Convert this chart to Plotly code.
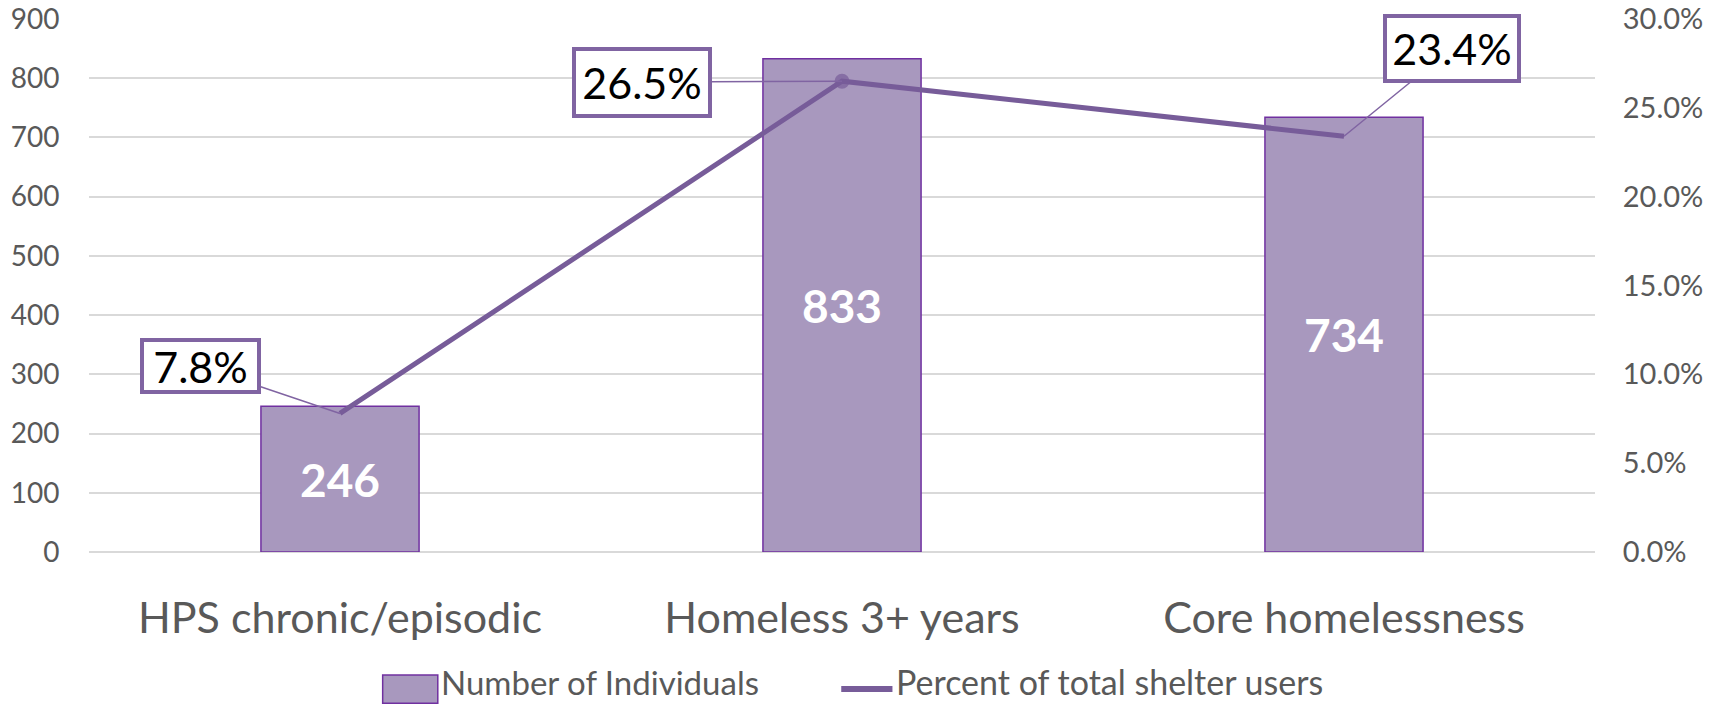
import plotly.graph_objects as go

# Data
categories = ["HPS chronic/episodic", "Homeless 3+ years", "Core homelessness"]
individuals = [246, 833, 734]
percent_of_shelter_users = [0.078, 0.265, 0.234]
left_ticks = [0, 100, 200, 300, 400, 500, 600, 700, 800, 900]
right_ticks = [0.0, 0.05, 0.10, 0.15, 0.20, 0.25, 0.30]

FONT = "Lato"
BAR_FILL = "#A898BE"
BAR_EDGE = "#7030A0"
LINE_COLOR = "#775C99"
BOX_EDGE = "#8064A2"
TEXT_GREY = "#595959"
GRID = "#D9D9D9"

fig = go.Figure()

fig.add_trace(go.Bar(
    x=categories,
    y=individuals,
    name="Number of Individuals",
    marker=dict(color=BAR_FILL, line=dict(color=BAR_EDGE, width=1.5)),
    text=[str(v) for v in individuals],
    textposition="inside",
    insidetextanchor="middle",
    textfont=dict(family=FONT, size=46, color="white", weight="bold"),
    yaxis="y",
    cliponaxis=False,
))

fig.add_trace(go.Scatter(
    x=categories,
    y=percent_of_shelter_users,
    name="Percent of total shelter users",
    mode="lines+markers",
    line=dict(color=LINE_COLOR, width=5),
    marker=dict(color=LINE_COLOR, size=[0, 15, 0], line=dict(width=0)),
    yaxis="y2",
))

# Percentage call-out boxes (offset in px, box text size in px) with leader lines
callouts = [
    dict(ax=-140, ay=-47, w=113, h=48),
    dict(ax=-200, ay=1, w=132, h=63),
    dict(ax=108, ay=-88, w=130, h=61),
]
for cat, pct, c in zip(categories, percent_of_shelter_users, callouts):
    fig.add_annotation(
        x=cat, y=pct, xref="x", yref="y2",
        text=f"{pct * 100:.1f}%",
        showarrow=True, arrowhead=0, arrowwidth=1.5, arrowcolor=BOX_EDGE,
        ax=c["ax"], ay=c["ay"],
        width=c["w"], height=c["h"], align="center", valign="middle",
        font=dict(family=FONT, size=43, color="black"),
        bgcolor="white", bordercolor=BOX_EDGE, borderwidth=4, borderpad=0,
    )

# Legend drawn as swatches + labels below the plot
fig.add_shape(type="rect", xref="paper", yref="paper",
              x0=0.195, x1=0.2316, y0=-0.284, y1=-0.231,
              fillcolor=BAR_FILL, line=dict(color=BAR_EDGE, width=1.5))
fig.add_annotation(xref="paper", yref="paper", x=0.233, y=-0.2835,
                   text="Number of Individuals", showarrow=False,
                   xanchor="left", yanchor="bottom", borderpad=0,
                   font=dict(family=FONT, size=33, color=TEXT_GREY))
fig.add_shape(type="line", xref="paper", yref="paper",
              x0=0.4995, x1=0.5335, y0=-0.257, y1=-0.257,
              line=dict(color=LINE_COLOR, width=6))
fig.add_annotation(xref="paper", yref="paper", x=0.535, y=-0.2835,
                   text="Percent of total shelter users", showarrow=False,
                   xanchor="left", yanchor="bottom", borderpad=0,
                   font=dict(family=FONT, size=34, color=TEXT_GREY))

fig.update_layout(
    width=1723, height=705,
    margin=dict(l=89, r=128, t=19, b=153),
    paper_bgcolor="white", plot_bgcolor="white",
    showlegend=False,
    bargap=0.685,
    font=dict(family=FONT, color=TEXT_GREY),
    xaxis=dict(
        type="category", automargin=False,
        tickfont=dict(family=FONT, size=43, color=TEXT_GREY),
        showgrid=False, showline=False, zeroline=False,
        ticks="outside", ticklen=28, tickcolor="rgba(0,0,0,0)",
    ),
    yaxis=dict(
        range=[0, 900], automargin=False,
        tickvals=left_ticks,
        tickfont=dict(family=FONT, size=28, color=TEXT_GREY),
        showgrid=True, gridcolor=GRID, gridwidth=1.5,
        zeroline=True, zerolinecolor=GRID, zerolinewidth=1.5,
        showline=False,
        ticks="outside", ticklen=23, tickcolor="rgba(0,0,0,0)",
    ),
    yaxis2=dict(
        overlaying="y", side="right", automargin=False,
        range=[0, 0.30],
        tickvals=right_ticks,
        tickformat=".1%",
        tickfont=dict(family=FONT, size=29, color=TEXT_GREY),
        showgrid=False, zeroline=False, showline=False,
        ticks="outside", ticklen=21, tickcolor="rgba(0,0,0,0)",
    ),
)

fig.write_html("out.html")
